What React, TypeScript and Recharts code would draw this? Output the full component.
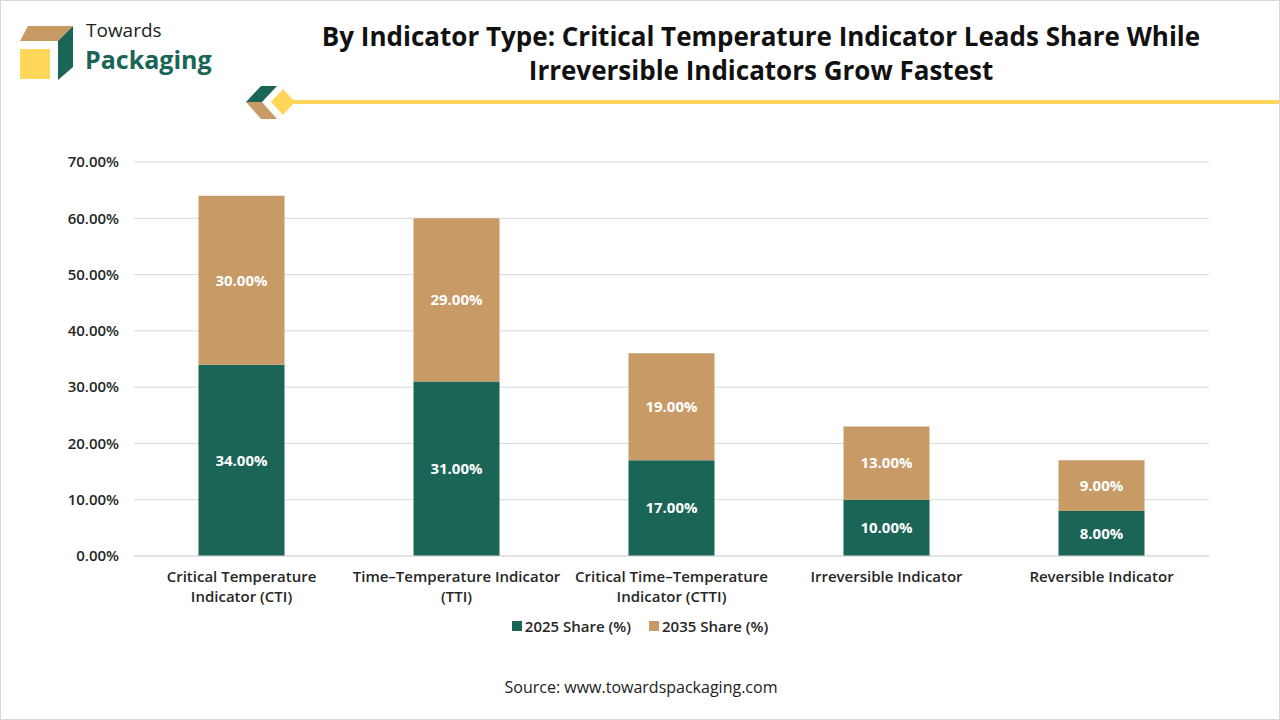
import { BarChart, Bar, XAxis, YAxis, CartesianGrid, Legend, LabelList } from "recharts";

const categories = [
  "Critical Temperature Indicator (CTI)",
  "Time–Temperature Indicator (TTI)",
  "Critical Time–Temperature Indicator (CTTI)",
  "Irreversible Indicator",
  "Reversible Indicator",
];
const tickLines = [
  ["Critical Temperature", "Indicator (CTI)"],
  ["Time–Temperature Indicator", "(TTI)"],
  ["Critical Time–Temperature", "Indicator (CTTI)"],
  ["Irreversible Indicator"],
  ["Reversible Indicator"],
];
const share2025 = [34, 31, 17, 10, 8];
const share2035 = [30, 29, 19, 13, 9];
const yTicks = [0, 10, 20, 30, 40, 50, 60, 70];

const GREEN = "#1A6556";
const TAN = "#C89A66";
const FONT = "'Open Sans', 'Liberation Sans', sans-serif";

const data = categories.map((name, i) => ({
  name,
  s2025: share2025[i],
  s2035: share2035[i],
}));

const pct = (v: any) => `${Number(v).toFixed(2)}%`;

const CategoryTick = (props: any) => {
  const { x, y, payload } = props;
  const lines = tickLines[payload.index] || [payload.value];
  return (
    <g transform={`translate(${x},${y})`}>
      {lines.map((l, i) => (
        <text
          key={i}
          x={0}
          y={i * 20}
          dy={18}
          textAnchor="middle"
          fill="#262626"
          fontSize={15}
          fontWeight={600}
          fontFamily={FONT}
        >
          {l}
        </text>
      ))}
    </g>
  );
};

const LegendContent = () => (
  <div
    style={{
      display: "flex",
      justifyContent: "center",
      gap: 18,
      fontFamily: FONT,
      fontSize: 15,
      fontWeight: 600,
      color: "#262626",
    }}
  >
    {[
      ["2025 Share (%)", GREEN],
      ["2035 Share (%)", TAN],
    ].map(([label, c]) => (
      <div key={label} style={{ display: "flex", alignItems: "center", gap: 3 }}>
        <span style={{ width: 10, height: 10, background: c, display: "inline-block" }} />
        <span>{label}</span>
      </div>
    ))}
  </div>
);

const Logo = () => (
  <svg width={320} height={125} style={{ position: "absolute", left: 0, top: 0 }}>
    <polygon points="27,25 72,25 57,40 19,40" fill="#C89A66" />
    <rect x={19} y={48} width={30} height={30} fill="#FFD55A" />
    <polygon points="57,40 72,25 72,66 57,79" fill="#1A6556" />
    <text x={85} y={36} fontSize={19} fill="#222" fontFamily="'Open Sans', sans-serif">
      Towards
    </text>
    <text x={84} y={68} fontSize={25} fontWeight={700} fill="#1A6556" fontFamily="'Open Sans', sans-serif">
      Packaging
    </text>
    <polygon points="245,101 260,85 276,85 261,101" fill="#1A6556" />
    <polygon points="245,101 261,101 276,118 260,118" fill="#C89A66" />
    <polygon points="282,88 294,101 282,114 270,101" fill="#FFD55A" />
  </svg>
);

export default function App() {
  return (
    <div
      style={{
        position: "absolute",
        left: 0,
        top: 0,
        width: 1280,
        height: 720,
        background: "#fff",
        boxSizing: "border-box",
        border: "1px solid #d9d9d9",
        overflow: "hidden",
        fontFamily: FONT,
      }}
    >
      <Logo />
      <div style={{ position: "absolute", left: 290, top: 99, width: 990, height: 4, background: "#FFD55A" }} />
      <div
        style={{
          position: "absolute",
          left: 240,
          width: 1040,
          top: 18,
          textAlign: "center",
          fontSize: 26,
          fontWeight: 700,
          lineHeight: "34px",
          color: "#111",
        }}
      >
        By Indicator Type: Critical Temperature Indicator Leads Share While
        <br />
        Irreversible Indicators Grow Fastest
      </div>
      <div style={{ position: "absolute", left: 0, top: 0 }}>
        <BarChart
          width={1278}
          height={718}
          data={data}
          margin={{ top: 161, right: 70, left: 0, bottom: 83 }}
          barCategoryGap="30%"
        >
          <CartesianGrid vertical={false} stroke="#d9d9d9" />
          <YAxis
            width={133}
            domain={[0, 70]}
            ticks={yTicks}
            tickFormatter={pct}
            axisLine={false}
            tickLine={false}
            tickMargin={9}
            tick={{ fill: "#262626", fontSize: 15, fontWeight: 600, fontFamily: FONT }}
            interval={0}
          />
          <XAxis
            dataKey="name"
            height={60}
            interval={0}
            axisLine={{ stroke: "#d9d9d9" }}
            tickLine={false}
            tick={<CategoryTick />}
          />
          <Legend
            verticalAlign="bottom"
            content={<LegendContent />}
            wrapperStyle={{ top: 615, left: 0, width: 1278 }}
          />
          <Bar dataKey="s2025" stackId="a" fill={GREEN} isAnimationActive={false}>
            <LabelList
              dataKey="s2025"
              position="center"
              formatter={pct}
              fill="#fff"
              fontSize={15}
              fontWeight={700}
              fontFamily={FONT}
            />
          </Bar>
          <Bar dataKey="s2035" stackId="a" fill={TAN} isAnimationActive={false}>
            <LabelList
              dataKey="s2035"
              position="center"
              formatter={pct}
              fill="#fff"
              fontSize={15}
              fontWeight={700}
              fontFamily={FONT}
            />
          </Bar>
        </BarChart>
      </div>
      <div
        style={{
          position: "absolute",
          left: 0,
          width: 1280,
          top: 675,
          textAlign: "center",
          fontSize: 16,
          color: "#222",
        }}
      >
        Source: www.towardspackaging.com
      </div>
    </div>
  );
}
